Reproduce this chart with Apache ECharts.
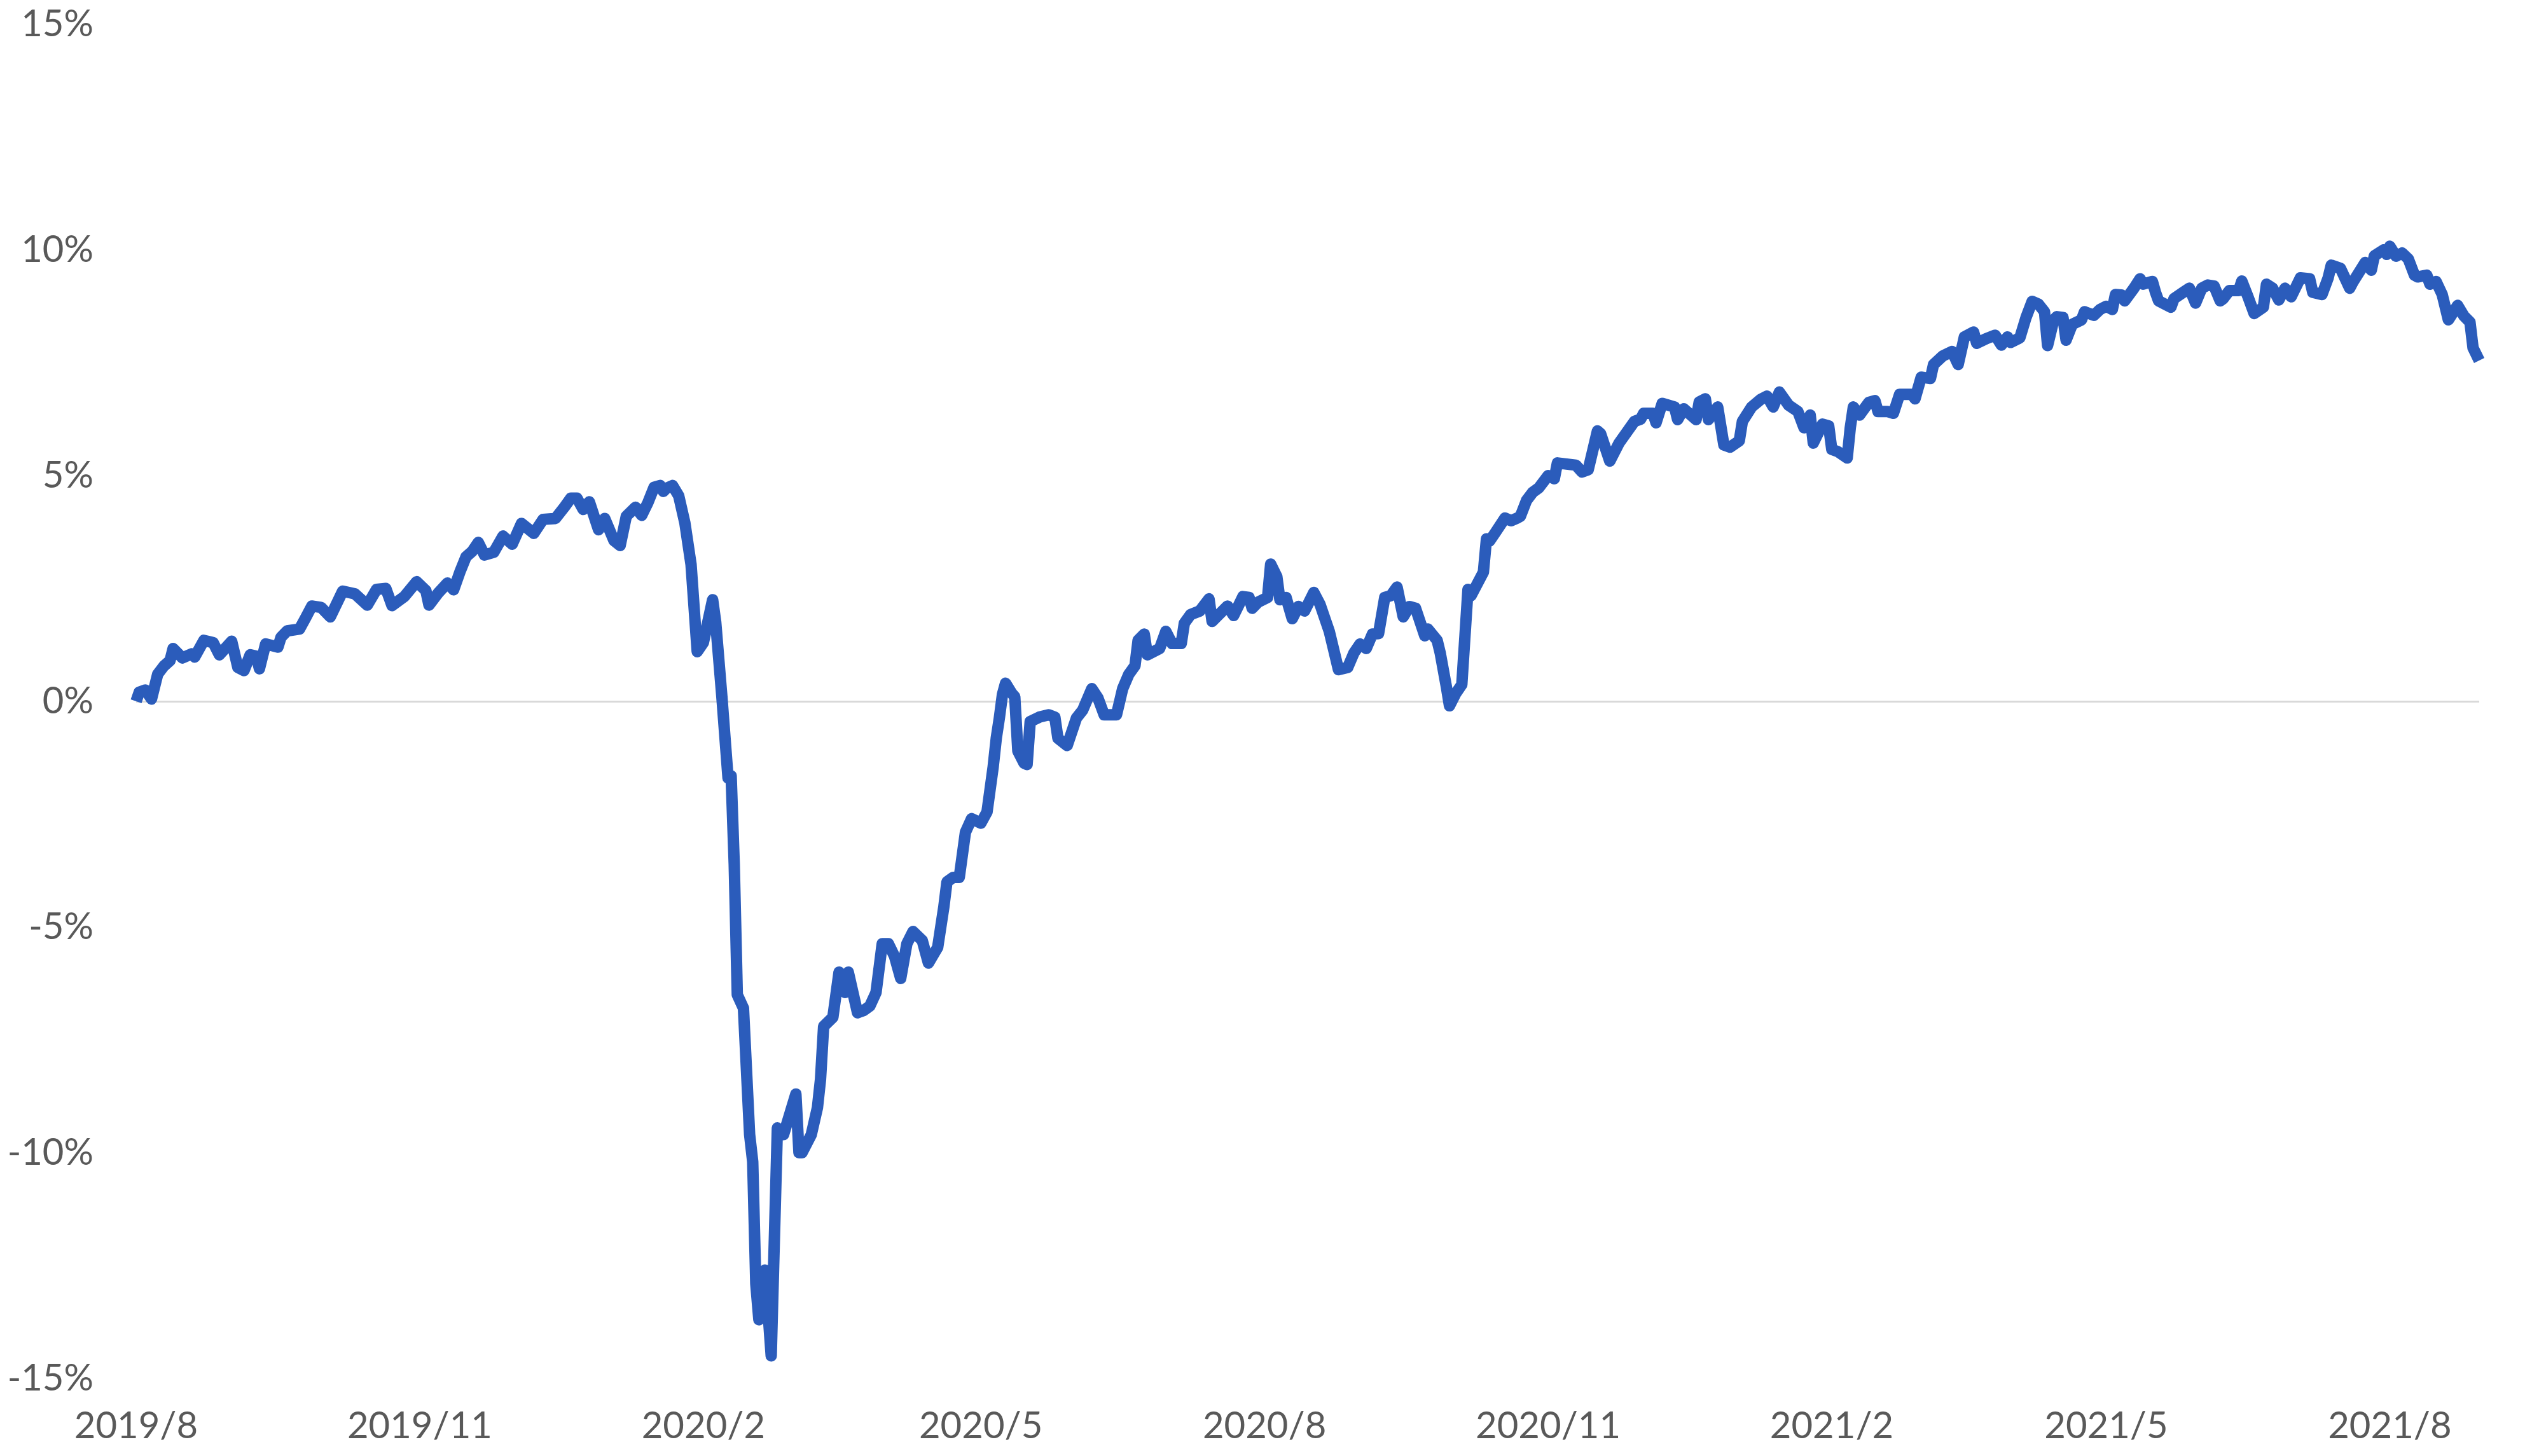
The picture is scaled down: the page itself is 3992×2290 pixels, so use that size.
<!DOCTYPE html>
<html>
<head>
<meta charset="utf-8">
<script src="https://cdn.jsdelivr.net/npm/echarts@6/dist/echarts.min.js"></script>
<style>
html,body{margin:0;padding:0;background:#fff;}
#chart{width:3992px;height:2290px;}
</style>
</head>
<body>
<div id="chart"></div>
<script>
var dates = [
'2019-08-01','2019-08-02','2019-08-04','2019-08-06','2019-08-08','2019-08-10','2019-08-12','2019-08-13','2019-08-16','2019-08-19',
'2019-08-20','2019-08-23','2019-08-26','2019-08-28','2019-09-01','2019-09-03','2019-09-05','2019-09-07','2019-09-09','2019-09-10',
'2019-09-12','2019-09-16','2019-09-17','2019-09-19','2019-09-23','2019-09-25','2019-09-27','2019-09-30','2019-10-03','2019-10-07',
'2019-10-11','2019-10-15','2019-10-18','2019-10-21','2019-10-23','2019-10-27','2019-10-31','2019-11-03','2019-11-04','2019-11-07',
'2019-11-10','2019-11-12','2019-11-14','2019-11-16','2019-11-18','2019-11-20','2019-11-22','2019-11-25','2019-11-28','2019-12-01',
'2019-12-04','2019-12-08','2019-12-11','2019-12-15','2019-12-18','2019-12-20','2019-12-22','2019-12-24','2019-12-26','2019-12-29',
'2019-12-31','2020-01-03','2020-01-05','2020-01-07','2020-01-10','2020-01-12','2020-01-14','2020-01-16','2020-01-18','2020-01-19',
'2020-01-20','2020-01-22','2020-01-24','2020-01-26','2020-01-28','2020-01-30','2020-02-01','2020-02-04','2020-02-05','2020-02-07',
'2020-02-09','2020-02-10','2020-02-11','2020-02-12','2020-02-14','2020-02-16','2020-02-17','2020-02-18','2020-02-19','2020-02-21',
'2020-02-23','2020-02-25','2020-02-27','2020-03-02','2020-03-03','2020-03-04','2020-03-07','2020-03-09','2020-03-10','2020-03-11',
'2020-03-14','2020-03-16','2020-03-18','2020-03-19','2020-03-22','2020-03-24','2020-03-26','2020-03-28','2020-03-30','2020-04-01',
'2020-04-03','2020-04-05','2020-04-07','2020-04-09','2020-04-12','2020-04-14','2020-04-17','2020-04-19','2020-04-20','2020-04-22',
'2020-04-24','2020-04-26','2020-04-28','2020-05-01','2020-05-03','2020-05-05','2020-05-06','2020-05-07','2020-05-08','2020-05-09',
'2020-05-11','2020-05-12','2020-05-13','2020-05-15','2020-05-16','2020-05-17','2020-05-20','2020-05-23','2020-05-25','2020-05-26',
'2020-05-29','2020-06-01','2020-06-03','2020-06-06','2020-06-08','2020-06-10','2020-06-14','2020-06-16','2020-06-18','2020-06-20',
'2020-06-21','2020-06-23','2020-06-24','2020-06-28','2020-06-30','2020-07-02','2020-07-05','2020-07-06','2020-07-08','2020-07-11',
'2020-07-14','2020-07-15','2020-07-20','2020-07-22','2020-07-25','2020-07-27','2020-07-28','2020-07-30','2020-08-02','2020-08-03',
'2020-08-05','2020-08-06','2020-08-08','2020-08-10','2020-08-12','2020-08-14','2020-08-17','2020-08-19','2020-08-22','2020-08-23',
'2020-08-25','2020-08-28','2020-08-30','2020-09-01','2020-09-03','2020-09-05','2020-09-07','2020-09-09','2020-09-11','2020-09-13',
'2020-09-15','2020-09-17','2020-09-19','2020-09-22','2020-09-23','2020-09-26','2020-09-27','2020-09-29','2020-09-30','2020-10-02',
'2020-10-04','2020-10-06','2020-10-07','2020-10-11','2020-10-12','2020-10-13','2020-10-15','2020-10-18','2020-10-20','2020-10-22',
'2020-10-23','2020-10-25','2020-10-27','2020-10-29','2020-11-01','2020-11-03','2020-11-04','2020-11-10','2020-11-12','2020-11-14',
'2020-11-17','2020-11-18','2020-11-21','2020-11-24','2020-11-29','2020-12-01','2020-12-02','2020-12-05','2020-12-06','2020-12-08',
'2020-12-12','2020-12-13','2020-12-15','2020-12-19','2020-12-20','2020-12-22','2020-12-23','2020-12-26','2020-12-28','2020-12-30',
'2021-01-02','2021-01-03','2021-01-06','2021-01-09','2021-01-11','2021-01-13','2021-01-15','2021-01-18','2021-01-21','2021-01-23',
'2021-01-25','2021-01-26','2021-01-29','2021-01-31','2021-02-01','2021-02-03','2021-02-06','2021-02-07','2021-02-08','2021-02-10',
'2021-02-13','2021-02-15','2021-02-16','2021-02-19','2021-02-21','2021-02-23','2021-02-27','2021-02-28','2021-03-02','2021-03-05',
'2021-03-06','2021-03-09','2021-03-12','2021-03-14','2021-03-16','2021-03-19','2021-03-20','2021-03-23','2021-03-26','2021-03-28',
'2021-03-30','2021-03-31','2021-04-03','2021-04-05','2021-04-07','2021-04-09','2021-04-11','2021-04-12','2021-04-14','2021-04-15',
'2021-04-17','2021-04-18','2021-04-20','2021-04-23','2021-04-24','2021-04-27','2021-04-29','2021-05-01','2021-05-03','2021-05-04',
'2021-05-06','2021-05-07','2021-05-10','2021-05-12','2021-05-13','2021-05-16','2021-05-17','2021-05-18','2021-05-22','2021-05-23',
'2021-05-26','2021-05-28','2021-05-30','2021-06-01','2021-06-03','2021-06-05','2021-06-07','2021-06-08','2021-06-10','2021-06-13',
'2021-06-14','2021-06-16','2021-06-18','2021-06-21','2021-06-22','2021-06-24','2021-06-26','2021-06-28','2021-06-30','2021-07-03',
'2021-07-06','2021-07-07','2021-07-10','2021-07-12','2021-07-13','2021-07-16','2021-07-19','2021-07-20','2021-07-24','2021-07-26',
'2021-07-27','2021-07-30','2021-07-31','2021-08-01','2021-08-03','2021-08-05','2021-08-07','2021-08-09','2021-08-10','2021-08-13',
'2021-08-14','2021-08-16','2021-08-18','2021-08-20','2021-08-23','2021-08-25','2021-08-27','2021-08-28','2021-08-30'
];

// Cumulative return in percent at each date
var values = [
0.00,0.20,0.25,0.05,0.60,0.78,0.90,1.17,0.96,1.05,
0.98,1.35,1.30,1.03,1.33,0.75,0.68,1.03,1.00,0.72,
1.27,1.20,1.42,1.56,1.60,1.85,2.11,2.08,1.87,2.44,
2.38,2.13,2.48,2.50,2.12,2.32,2.65,2.45,2.13,2.40,
2.62,2.47,2.86,3.20,3.32,3.52,3.24,3.30,3.66,3.48,
3.94,3.72,4.03,4.05,4.31,4.50,4.50,4.25,4.42,3.80,
4.05,3.56,3.45,4.10,4.30,4.12,4.40,4.74,4.78,4.65,
4.72,4.78,4.55,3.95,3.03,1.10,1.30,2.25,1.75,0.10,
-1.70,-1.65,-3.60,-6.50,-6.80,-9.60,-10.20,-12.90,-13.70,-12.60,
-14.50,-9.45,-9.60,-8.70,-10.00,-10.00,-9.60,-9.00,-8.37,-7.20,
-7.00,-6.00,-6.45,-6.00,-6.90,-6.85,-6.75,-6.45,-5.37,-5.37,
-5.65,-6.14,-5.37,-5.10,-5.30,-5.80,-5.45,-4.55,-4.00,-3.90,
-3.90,-2.90,-2.60,-2.70,-2.45,-1.45,-0.82,-0.37,0.15,0.40,
0.18,0.10,-1.10,-1.37,-1.40,-0.45,-0.35,-0.30,-0.35,-0.82,
-0.98,-0.37,-0.20,0.28,0.07,-0.30,-0.30,0.28,0.60,0.79,
1.35,1.49,1.03,1.17,1.55,1.28,1.28,1.73,1.92,2.00,
2.27,1.77,2.11,1.90,2.32,2.30,2.06,2.20,2.30,3.04,
2.76,2.25,2.30,1.83,2.10,2.00,2.41,2.15,1.55,1.27,
0.70,0.75,1.07,1.27,1.17,1.49,1.50,2.30,2.34,2.53,
1.87,2.10,2.06,1.45,1.60,1.35,1.07,0.32,-0.10,0.17,
0.37,2.48,2.34,2.86,3.60,3.55,3.75,4.06,4.00,4.06,
4.10,4.45,4.63,4.73,5.00,4.93,5.28,5.23,5.08,5.13,
5.99,5.93,5.32,5.72,6.20,6.25,6.38,6.38,6.17,6.60,
6.52,6.24,6.48,6.24,6.63,6.70,6.24,6.52,5.68,5.63,
5.77,6.20,6.52,6.69,6.76,6.52,6.85,6.56,6.42,6.06,
6.34,5.72,6.14,6.10,5.58,5.53,5.39,6.06,6.52,6.34,
6.62,6.66,6.42,6.42,6.38,6.80,6.80,6.70,7.18,7.15,
7.46,7.65,7.75,7.46,8.07,8.18,7.93,8.03,8.11,7.89,
8.07,7.95,8.05,8.50,8.86,8.80,8.63,7.88,8.45,8.52,
8.50,8.00,8.35,8.45,8.63,8.55,8.68,8.75,8.68,9.01,
9.00,8.87,9.15,9.36,9.24,9.30,9.06,8.87,8.73,8.92,
9.06,9.15,8.82,9.15,9.22,9.20,8.87,8.92,9.10,9.10,
9.31,8.96,8.59,8.73,9.24,9.15,8.89,9.15,8.96,9.38,
9.36,9.06,9.01,9.38,9.66,9.59,9.15,9.28,9.72,9.55,
9.87,10.00,9.90,10.08,9.86,9.93,9.80,9.44,9.40,9.44,
9.24,9.30,9.01,8.45,8.77,8.54,8.40,7.83,7.55
];

// Axis ticks
var xTickDates = ['2019-08-01','2019-11-01','2020-02-01','2020-05-01','2020-08-01','2020-11-01','2021-02-01','2021-05-01','2021-08-01'];
var xStart = '2019-08-01';
var xEnd = '2021-08-30';
var yMin = -15, yMax = 15, yStep = 5;

function toTs(s) {
  var p = s.split('-');
  return new Date(+p[0], +p[1] - 1, +p[2]).getTime();
}

var seriesData = dates.map(function (d, i) { return [toTs(d), values[i]]; });

var chart = echarts.init(document.getElementById('chart'), null, { renderer: 'canvas' });
var labelFont = { fontFamily: 'Lato', fontSize: 58, color: '#595959' };

chart.setOption({
  animation: false,
  backgroundColor: '#ffffff',
  grid: { left: 214, right: 94, top: 38, bottom: 122, containLabel: false },
  xAxis: {
    type: 'value',
    min: toTs(xStart),
    max: toTs(xEnd),
    axisLine: { show: false },
    axisTick: { show: false },
    splitLine: { show: false },
    axisLabel: {
      customValues: xTickDates.map(toTs),
      margin: 46,
      fontFamily: labelFont.fontFamily,
      fontSize: labelFont.fontSize,
      color: labelFont.color,
      lineHeight: 58,
      hideOverlap: false,
      showMinLabel: true,
      showMaxLabel: true,
      formatter: function (v) {
        var d = new Date(v);
        return d.getFullYear() + '/' + (d.getMonth() + 1);
      }
    }
  },
  yAxis: {
    type: 'value',
    min: yMin,
    max: yMax,
    interval: yStep,
    axisLine: { show: false },
    axisTick: { show: false },
    splitLine: { show: false },
    axisLabel: {
      margin: 67,
      fontFamily: labelFont.fontFamily,
      fontSize: labelFont.fontSize,
      color: labelFont.color,
      formatter: '{value}%'
    }
  },
  series: [{
    type: 'line',
    data: seriesData,
    showSymbol: false,
    symbol: 'none',
    smooth: false,
    lineStyle: { color: '#2b5cbb', width: 18, join: 'round', cap: 'butt' },
    markLine: {
      silent: true,
      symbol: ['none', 'none'],
      label: { show: false },
      lineStyle: { color: '#d9d9d9', width: 3, type: 'solid' },
      data: [{ yAxis: 0 }],
      z: 1
    },
    z: 3
  }]
});
</script>
</body>
</html>
